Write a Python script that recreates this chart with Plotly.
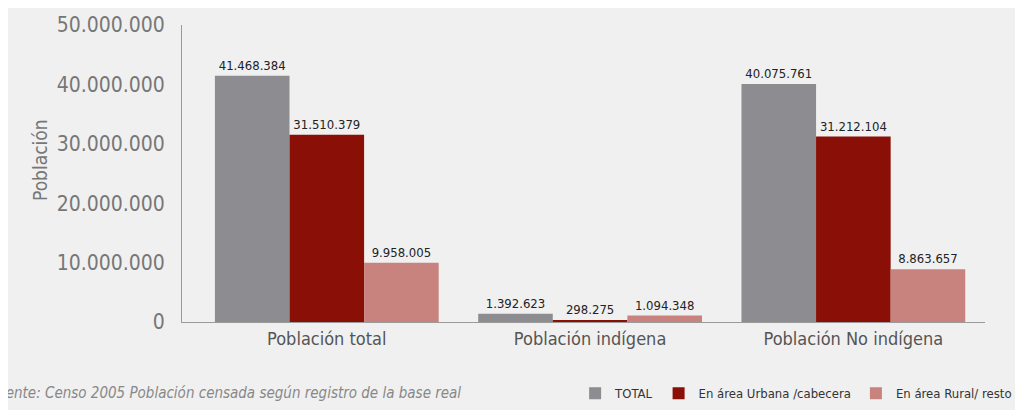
import plotly.graph_objects as go

categorias = ["Población total", "Población indígena", "Población No indígena"]
total = [41468384, 1392623, 40075761]
urbana = [31510379, 298275, 31212104]
rural = [9958005, 1094348, 8863657]

series = [
    ("TOTAL", total, "#8d8d91"),
    ("En área Urbana /cabecera", urbana, "#8a0f06"),
    ("En área Rural/ resto", rural, "#c8837e"),
]

FONT = "DejaVu Sans Condensed"

fig = go.Figure()
for nombre, valores, color in series:
    fig.add_trace(go.Bar(
        x=categorias, y=valores, name=nombre,
        marker=dict(color=color, line=dict(width=0)),
        texttemplate="%{y:,d}", textposition="outside",
        textfont=dict(family=FONT, size=13, color="#222222"),
        cliponaxis=False,
    ))

# la pagina tiene un margen de 8px arriba/izquierda, se compensa aqui
fig.update_layout(
    width=1015, height=402,
    paper_bgcolor="#f0f0f0", plot_bgcolor="#f0f0f0",
    separators=",.",
    barmode="group", bargap=0.15, bargroupgap=0,
    margin=dict(l=174, r=38, t=17, b=88, autoexpand=False),
    font=dict(family=FONT, color="#777777"),
    xaxis=dict(
        range=[-0.55, 2.5], showline=True, linecolor="#9a9a9a", linewidth=1,
        ticks="", tickfont=dict(size=18, color="#555555"), automargin=False,
    ),
    yaxis=dict(
        range=[0, 50000000], tickvals=[0, 10000000, 20000000, 30000000, 40000000, 50000000],
        tickformat=",d", showgrid=False, zeroline=False,
        showline=True, linecolor="#9a9a9a", linewidth=1,
        ticklabelstandoff=12, automargin=False,
        tickfont=dict(size=21, color="#777777"),
    ),
    legend=dict(
        orientation="h", x=1.04, xanchor="right", y=-0.24, yanchor="middle",
        font=dict(size=13, color="#333333"), bgcolor="rgba(0,0,0,0)",
        itemwidth=30, traceorder="normal",
    ),
    showlegend=True,
)

# titulo del eje y como anotacion (algo por encima del centro)
fig.add_annotation(
    text="Población", textangle=-90,
    xref="paper", yref="paper", x=-0.177, y=0.545, xanchor="center", yanchor="middle",
    showarrow=False, font=dict(family=FONT, size=19, color="#777777"),
)

fig.add_annotation(
    text="<i>Fuente: Censo 2005 Población censada según registro de la base real</i>",
    xref="paper", yref="paper", x=-0.2416, y=-0.24, xanchor="left", yanchor="middle",
    showarrow=False, font=dict(family=FONT, size=15, color="#888888"),
)

fig.write_html("out.html")
